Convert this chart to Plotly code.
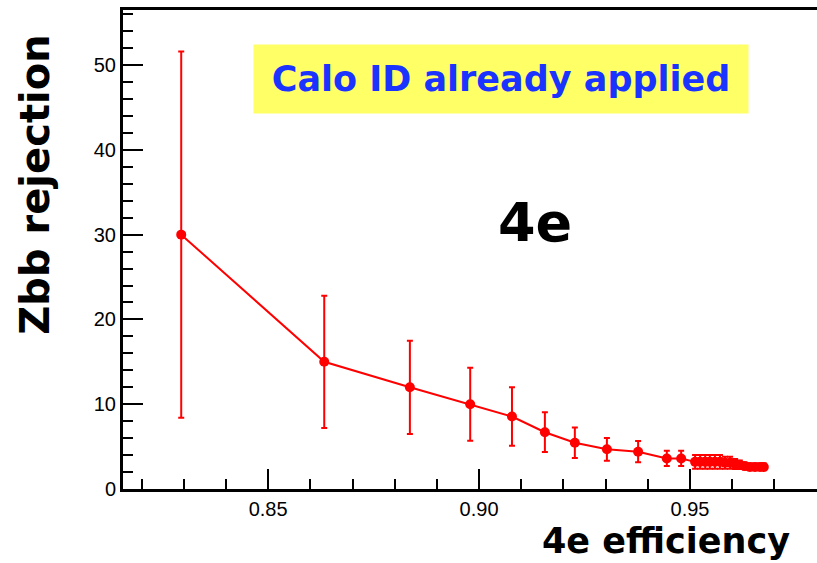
import plotly.graph_objects as go

efficiency = [0.8294, 0.8633, 0.8836, 0.8979, 0.9078, 0.9156, 0.9227, 0.9303, 0.9377,
              0.9445, 0.9479,
              0.9512, 0.9524, 0.9536, 0.9547, 0.9559, 0.9571, 0.9583, 0.9595,
              0.9607, 0.9618, 0.9630, 0.9642, 0.9654, 0.9666, 0.9675]
rejection = [30.0, 15.0, 12.0, 10.0, 8.55, 6.7, 5.45, 4.68, 4.4,
             3.6, 3.6,
             3.2, 3.2, 3.2, 3.2, 3.2, 3.2, 3.1, 3.1,
             2.95, 2.85, 2.7, 2.6, 2.6, 2.6, 2.6]
rejection_err = [21.6, 7.8, 5.5, 4.3, 3.45, 2.35, 1.8, 1.35, 1.25,
                 0.9, 0.9,
                 0.8, 0.8, 0.8, 0.8, 0.8, 0.8, 0.7, 0.7,
                 0.6, 0.5, 0.4, 0.4, 0.4, 0.4, 0.4]

x_ticks = [0.85, 0.90, 0.95]
x_tick_labels = ["0.85", "0.90", "0.95"]
y_ticks = [0, 10, 20, 30, 40, 50]

fig = go.Figure()
fig.add_trace(go.Scatter(
    x=efficiency, y=rejection, mode="lines+markers",
    line=dict(color="#ff0000", width=2),
    marker=dict(color="#ff0000", size=10),
    error_y=dict(type="data", array=rejection_err, visible=True,
                 color="#ff0000", thickness=2, width=3),
    showlegend=False,
))

fig.update_layout(
    width=817, height=563,
    margin=dict(l=123, r=0, t=10, b=74),
    paper_bgcolor="white", plot_bgcolor="white",
    font=dict(family="Liberation Sans, Arial, sans-serif", size=20, color="black"),
    xaxis=dict(range=[0.8156, 0.9801], tickvals=x_ticks, ticktext=x_tick_labels,
               ticks="inside", ticklen=20, tickwidth=2, tickcolor="black",
               showline=True, linewidth=3, linecolor="black", mirror=True,
               showgrid=False, zeroline=False,
               minor=dict(dtick=0.01, tick0=0.85, ticks="inside", ticklen=10,
                          tickwidth=2, tickcolor="black", showgrid=False)),
    yaxis=dict(range=[0, 56.5], tickvals=y_ticks,
               ticks="inside", ticklen=20, tickwidth=2, tickcolor="black",
               showline=True, linewidth=3, linecolor="black",
               showgrid=False, zeroline=False,
               minor=dict(dtick=2, tick0=0, ticks="inside", ticklen=10,
                          tickwidth=2, tickcolor="black", showgrid=False)),
)

title_font = "DejaVu Sans, sans-serif"
fig.add_annotation(xref="paper", yref="paper", x=0.544, y=0.856,
                   text="<b>Calo ID already applied</b>", showarrow=False,
                   font=dict(family=title_font, size=35, color="#1a33ff"),
                   bgcolor="#ffff66", width=492, height=66,
                   xanchor="center", yanchor="middle")
fig.add_annotation(xref="paper", yref="paper", x=0.594, y=0.557,
                   text="<b>4e</b>", showarrow=False,
                   font=dict(family=title_font, size=54, color="black"),
                   xanchor="center", yanchor="middle")
fig.add_annotation(xref="paper", yref="paper", x=-0.127, y=0.635,
                   text="<b>Zbb rejection</b>", showarrow=False, textangle=-90,
                   font=dict(family=title_font, size=40, color="black"),
                   xanchor="center", yanchor="middle")
fig.add_annotation(xref="paper", yref="paper", x=0.782, y=-0.152,
                   text="<b>4e efficiency</b>", showarrow=False,
                   font=dict(family=title_font, size=35, color="black"),
                   xanchor="center", yanchor="bottom", borderpad=0)

fig.write_html("out.html")
